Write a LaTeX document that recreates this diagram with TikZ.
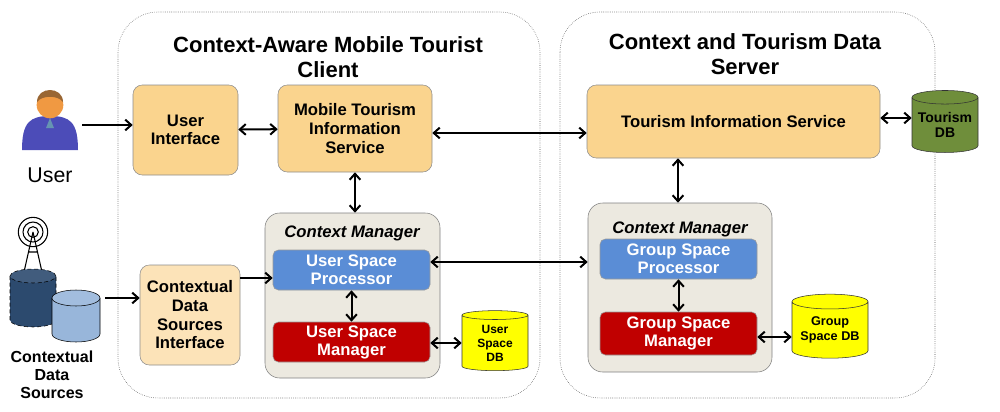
\documentclass[tikz,border=0pt]{standalone}
\usepackage{fontspec}
\setmainfont{Liberation Sans}
\usetikzlibrary{shapes.geometric,arrows.meta}
\definecolor{orng}{HTML}{FAD48E}
\definecolor{lorng}{HTML}{FCE3B8}
\definecolor{cmgr}{HTML}{ECE9E0}
\definecolor{bl}{HTML}{5A8DD6}
\definecolor{rd}{HTML}{C00000}
\definecolor{gr}{HTML}{6F8E3B}
\definecolor{ylw}{HTML}{FFFF00}
\definecolor{dkcyl}{HTML}{2C4A6E}
\definecolor{ltcyl}{HTML}{98B6DA}
\begin{document}
\begin{tikzpicture}[x=0.75pt,y=-0.75pt,
  box/.style={draw=black!45,rounded corners=7pt,font=\bfseries\fontsize{12.5}{14}\selectfont,align=center,inner sep=0pt},
  cont/.style={draw=black!70,densely dotted,rounded corners=30pt},
  ctxmgr/.style={draw=black!50,fill=cmgr,rounded corners=11pt},
  inbox/.style={draw=black!40,rounded corners=4pt,font=\bfseries\fontsize{12.5}{13.5}\selectfont,text=white,align=center,inner sep=0pt},
  cyl/.style={cylinder,shape border rotate=90,aspect=0.25,draw=black!80,align=center,inner sep=0pt,font=\bfseries\fontsize{10.5}{11.5}\selectfont},
  arr/.style={-{Straight Barb[length=4.5pt,width=8pt]},line width=1.5pt},
  darr/.style={{Straight Barb[length=4.5pt,width=8pt]}-{Straight Barb[length=4.5pt,width=8pt]},line width=1.5pt}]
\useasboundingbox (0,0) rectangle (1000,411);
% containers
\draw[cont] (118,12) rectangle (540,398);
\draw[cont] (560,12) rectangle (935,398);
\node[font=\bfseries\fontsize{16.5}{19}\selectfont,align=center] (t1) at (328,57) {Context-Aware Mobile Tourist\\Client};
\node[font=\bfseries\fontsize{16.5}{19}\selectfont,align=center] (t2) at (745,54) {Context and Tourism Data\\Server};
% top boxes
\node[box,fill=orng,minimum width=78.75pt,minimum height=67.5pt] (ui) at (185.5,130) {User\\Interface};
\node[box,fill=orng,minimum width=115.5pt,minimum height=65.25pt] (mtis) at (355,128.5) {Mobile Tourism\\Information\\Service};
\node[box,fill=orng,minimum width=219.75pt,minimum height=54.75pt] (tis) at (733.5,121.5) {Tourism Information Service};
\node[cyl,fill=gr,minimum width=49.5pt,minimum height=46.5pt] (tdb) at (945,125) {Tourism\\DB};
\node[box,fill=lorng,minimum width=75pt,minimum height=75pt] (cdsi) at (190,315) {Contextual\\Data\\Sources\\Interface};
% context managers
\node[ctxmgr,minimum width=131.25pt,minimum height=123.75pt] (cm1) at (352.5,295.5) {};
\node[font=\bfseries\itshape\fontsize{12.5}{13}\selectfont] (cm1t) at (352,233) {Context Manager};
\node[inbox,fill=bl,minimum width=117.75pt,minimum height=30pt] (usp) at (351.5,270) {User Space\\Processor};
\node[inbox,fill=rd,minimum width=117.75pt,minimum height=30pt] (usm) at (351.5,342) {User Space\\Manager};
\node[cyl,fill=ylw,minimum width=49.5pt,minimum height=45pt,font=\bfseries\fontsize{9}{10.5}\selectfont] (usdb) at (495,343) {User\\Space\\DB};
\node[ctxmgr,minimum width=138pt,minimum height=126.75pt] (cm2) at (680,287.5) {};
\node[font=\bfseries\itshape\fontsize{12.5}{13}\selectfont] (cm2t) at (680,229) {Context Manager};
\node[inbox,fill=bl,minimum width=117.75pt,minimum height=30pt] (gsp) at (678.5,259) {Group Space\\Processor};
\node[inbox,fill=rd,minimum width=117.75pt,minimum height=32.25pt] (gsm) at (678.5,333.5) {Group Space\\Manager};
\node[cyl,fill=ylw,minimum width=57pt,minimum height=48pt,font=\bfseries\fontsize{9.5}{11}\selectfont] (gsdb) at (830,330) {Group\\Space DB};
% user icon
\fill[blue!60!black!70] (22,150) .. controls (22,122) and (30,116) .. (50,116) .. controls (70,116) and (78,122) .. (78,150) -- cycle;
\fill[blue!40!cyan!50!black!60] (50,118) -- (46,128) -- (54,128) -- cycle;
\fill[orange!70!brown!80] (50,105) circle (10pt);
\fill[brown!80!black] (37,102) .. controls (37,86) and (63,86) .. (63,102) .. controls (58,95) and (42,95) .. (37,102) -- cycle;
\coordinate (usr) at (82,125);
\node[font=\fontsize{16}{17}\selectfont] (ulab) at (50,175) {User};
% antenna
\foreach \r in {4,7.5,11}{\draw[line width=0.8pt] (33,232) circle (\r pt);}
\draw[line width=0.8pt] (33,232) -- (24,272) (33,232) -- (42,272) (29,252) -- (37,252);
\draw[densely dashed,fill=dkcyl] (10,276) -- (10,320) arc (180:360:17.25pt and 5.25pt) -- (56,276);
\draw[densely dashed,fill=dkcyl!90!white] (33,276) ellipse (17.25pt and 5.25pt);
\draw[fill=ltcyl] (52,298) -- (52,334) arc (180:360:18pt and 6pt) -- (100,298);
\draw[fill=ltcyl!90!white] (76,298) ellipse (18pt and 6pt);
\coordinate (cds) at (105,298);
\node[font=\bfseries\fontsize{12}{13.5}\selectfont,align=center] (cdslab) at (52,375) {Contextual\\Data\\Sources};
% arrows
\draw[arr] (usr) -- (ui.west |- usr);
\draw[arr] (cds) -- (cdsi.west |- cds);
\draw[arr] (cdsi.east |- 0,278) -- (usp.west |- 0,278);
\draw[darr] (ui) -- (mtis);
\draw[darr] (mtis.east |- 0,133) -- (tis.west |- 0,133);
\draw[darr] (tis.east |- 0,118) -- (tdb.west |- 0,118);
\draw[darr] (mtis.south) -- (cm1.north -| mtis.south);
\draw[darr] (tis.south -| 678,0) -- (cm2.north -| 678,0);
\draw[darr] (usp.east |- 0,262) -- (cm2.west |- 0,262);
\draw[darr] (usp) -- (usm);
\draw[darr] (gsp) -- (gsm);
\draw[darr] (usm.east |- 0,343) -- (usdb.west |- 0,343);
\draw[darr] (gsm.east |- 0,337) -- (gsdb.west |- 0,337);
\end{tikzpicture}
\end{document}
